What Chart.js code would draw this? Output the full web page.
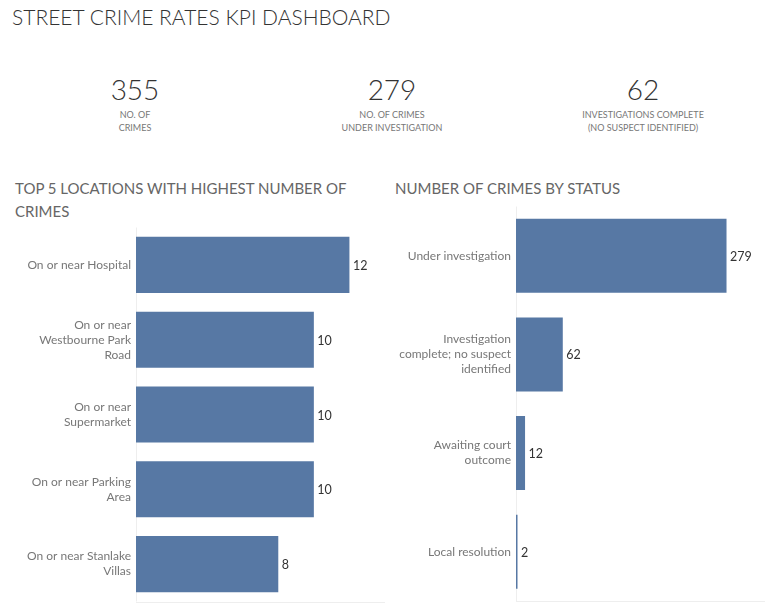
<!DOCTYPE html>
<html>
<head>
<meta charset="utf-8">
<script src="https://cdn.jsdelivr.net/npm/chart.js@4"></script>
<style>
  html, body { margin: 0; padding: 0; background: #fff; }
  body { width: 773px; height: 603px; position: relative; overflow: hidden; font-family: Lato, "Open Sans", sans-serif; }
  .title { position: absolute; left: 12px; top: 4px; font-size: 21px; font-weight: 300; color: #333; white-space: nowrap; }
  .kpi { position: absolute; top: 72px; width: 220px; text-align: center; }
  .kpi .num { font-size: 28px; font-weight: 300; color: #333; line-height: 34px; }
  .kpi .lbl { font-size: 9px; color: #777; line-height: 13px; margin-top: 2px; }
  .sec { position: absolute; font-size: 15px; font-weight: 400; color: #666; line-height: 23px; white-space: nowrap; }
  canvas { position: absolute; }
  #wrapL { position: absolute; left: 0; top: 220px; width: 390px; height: 383px; }
  #wrapR { position: absolute; left: 385px; top: 200px; width: 388px; height: 403px; }
</style>
</head>
<body>
<div class="title">STREET CRIME RATES KPI DASHBOARD</div>
<div id="kpis"></div>
<div class="sec" style="left:15px; top:177px;">TOP 5 LOCATIONS WITH HIGHEST NUMBER OF<br>CRIMES</div>
<div class="sec" style="left:395px; top:177px;">NUMBER OF CRIMES BY STATUS</div>
<div id="wrapL"><canvas id="left"></canvas></div>
<div id="wrapR"><canvas id="right"></canvas></div>
<script>
// ---- Data ----
const kpiValues = [355, 279, 62];
const kpiLabels = [
  ['NO. OF', 'CRIMES'],
  ['NO. OF CRIMES', 'UNDER INVESTIGATION'],
  ['INVESTIGATIONS COMPLETE', '(NO SUSPECT IDENTIFIED)']
];
const locations = [
  ['On or near Hospital'],
  ['On or near', 'Westbourne Park', 'Road'],
  ['On or near', 'Supermarket'],
  ['On or near Parking', 'Area'],
  ['On or near Stanlake', 'Villas']
];
const locationCounts = [12, 10, 10, 10, 8];
const statuses = [
  ['Under investigation'],
  ['Investigation', 'complete; no suspect', 'identified'],
  ['Awaiting court', 'outcome'],
  ['Local resolution']
];
const statusCounts = [279, 62, 12, 2];

// ---- KPIs ----
const kpiCenters = [135, 392, 643];
const kpiBox = document.getElementById('kpis');
kpiValues.forEach((v, i) => {
  const d = document.createElement('div');
  d.className = 'kpi';
  d.style.left = (kpiCenters[i] - 110) + 'px';
  d.innerHTML = '<div class="num">' + v + '</div><div class="lbl">' + kpiLabels[i].join('<br>') + '</div>';
  kpiBox.appendChild(d);
});

// ---- Charts ----
const BAR = '#5778a4';
const valueLabels = {
  id: 'valueLabels',
  afterDatasetsDraw(chart) {
    const ctx = chart.ctx;
    const meta = chart.getDatasetMeta(0);
    const data = chart.data.datasets[0].data;
    ctx.save();
    ctx.font = '12.5px Lato, "Open Sans", sans-serif';
    ctx.fillStyle = '#333';
    ctx.textAlign = 'left';
    ctx.textBaseline = 'middle';
    meta.data.forEach((bar, i) => {
      ctx.fillText(String(data[i]), bar.x + 3.5, bar.y + 1);
    });
    ctx.restore();
  }
};
const axisLines = {
  id: 'axisLines',
  beforeDatasetsDraw(chart) {
    const { ctx, chartArea: a } = chart;
    ctx.save();
    ctx.strokeStyle = '#eeeeee';
    ctx.lineWidth = 1;
    ctx.beginPath();
    ctx.moveTo(Math.round(a.left) + 0.5, a.top);
    ctx.lineTo(Math.round(a.left) + 0.5, a.bottom);
    ctx.moveTo(a.left, Math.round(a.bottom) + 0.5);
    ctx.lineTo(a.right, Math.round(a.bottom) + 0.5);
    ctx.stroke();
    ctx.restore();
  }
};

function makeChart(id, labels, values, xMax, yWidth, pad, barPct) {
  return new Chart(document.getElementById(id), {
    type: 'bar',
    data: {
      labels: labels,
      datasets: [{
        data: values,
        backgroundColor: BAR,
        borderWidth: 0,
        barPercentage: barPct,
        categoryPercentage: 1
      }]
    },
    options: {
      indexAxis: 'y',
      responsive: true,
      maintainAspectRatio: false,
      animation: false,
      layout: { padding: pad },
      plugins: { legend: { display: false }, tooltip: { enabled: false } },
      scales: {
        x: { display: false, min: 0, max: xMax },
        y: {
          grid: { display: false, drawTicks: false },
          border: { display: false },
          ticks: {
            color: '#777',
            font: { family: 'Lato, "Open Sans", sans-serif', size: 12, lineHeight: 1.25 },
            padding: 5
          },
          afterFit(scale) {
            scale.width = yWidth;
            scale.paddingTop = 0;
            scale.paddingBottom = 0;
          }
        }
      }
    },
    plugins: [axisLines, valueLabels]
  });
}

makeChart('left', locations, locationCounts, 14, 136, { top: 7.5, bottom: 1.5, right: 5, left: 0 }, 0.75);
makeChart('right', statuses, statusCounts, 330, 131, { top: 6.5, bottom: 2, right: 8, left: 0 }, 0.75);
</script>
</body>
</html>
